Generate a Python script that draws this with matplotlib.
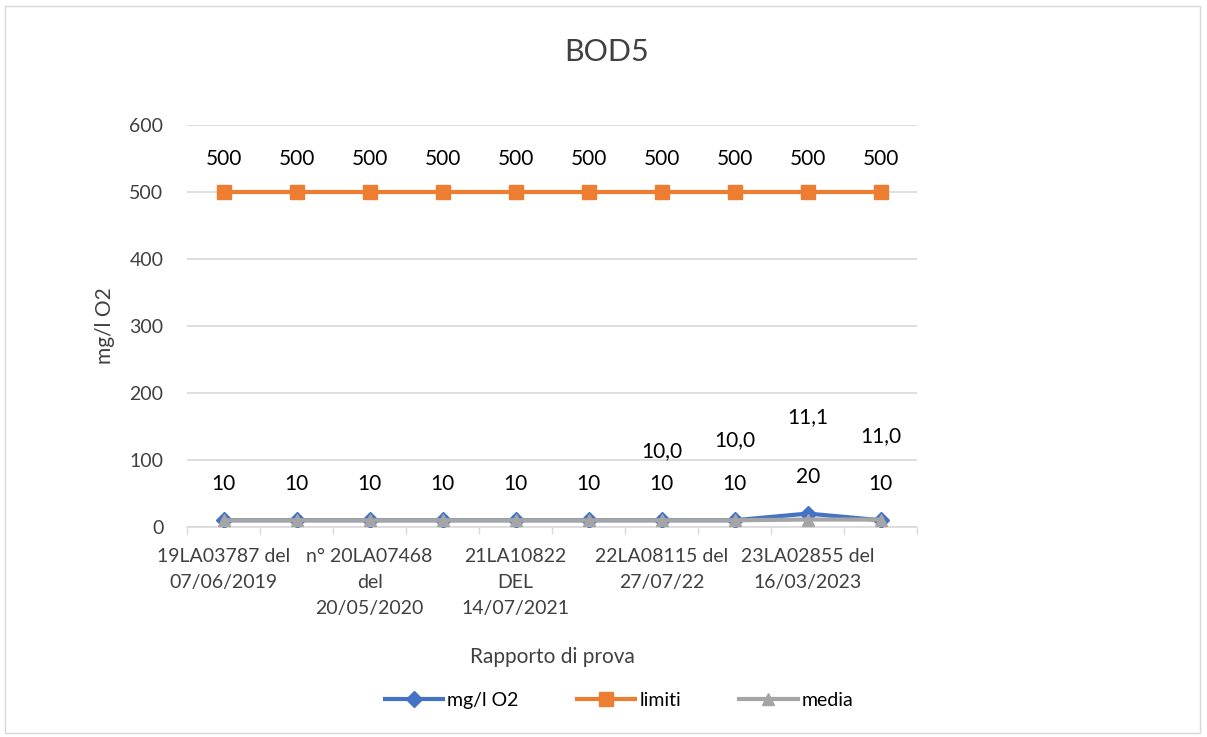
import matplotlib
matplotlib.use('Agg')
import matplotlib.pyplot as plt
from matplotlib.patches import Rectangle

plt.rcParams['font.family'] = ['Lato', 'DejaVu Sans']

# dati
categorie = ['19LA03787 del\n07/06/2019', '',
             'n° 20LA07468\ndel\n20/05/2020', '',
             '21LA10822\nDEL\n14/07/2021', '',
             '22LA08115 del\n27/07/22', '',
             '23LA02855 del\n16/03/2023', '']
bod5 = [10, 10, 10, 10, 10, 10, 10, 10, 20, 10]
limiti = [500, 500, 500, 500, 500, 500, 500, 500, 500, 500]
media = [10, 10, 10, 10, 10, 10, 10.0, 10.0, 11.1, 11.0]
media_etichette = ['', '', '', '', '', '', '10,0', '10,0', '11,1', '11,0']
yticks = [0, 100, 200, 300, 400, 500, 600]

fig = plt.figure(figsize=(12.07, 7.37), dpi=100)
ax = fig.add_axes([0.155, 0.285, 0.605, 0.545])

x = list(range(len(categorie)))
ax.plot(x, bod5, color='#4472C4', lw=3, marker='D', ms=8, label='mg/l O2', zorder=3)
ax.plot(x, limiti, color='#ED7D31', lw=3, marker='s', ms=10, label='limiti', zorder=3)
ax.plot(x, media, color='#A5A5A5', lw=3, marker='^', ms=9, label='media', zorder=4)

# etichette dei dati
for i in x:
    ax.annotate(str(bod5[i]), (i, bod5[i]), xytext=(0, 26), textcoords='offset points',
                ha='center', va='center', fontsize=15)
    ax.annotate(str(limiti[i]), (i, limiti[i]), xytext=(0, 24), textcoords='offset points',
                ha='center', va='center', fontsize=15)
off_media = [0, 0, 0, 0, 0, 0, 50, 58, 74, 60]
for i in x:
    if media_etichette[i]:
        ax.annotate(media_etichette[i], (i, media[i]), xytext=(0, off_media[i]),
                    textcoords='offset points', ha='center', va='center', fontsize=15)

ax.set_xlim(-0.5, len(categorie) - 0.5)
ax.set_ylim(0, 600)
ax.set_yticks(yticks)
ax.tick_params(axis='y', length=0, labelsize=14, labelcolor='#404040', pad=17)
ax.set_xticks(x)
ax.set_xticklabels(categorie, fontsize=14, color='#404040', linespacing=1.65)
ax.tick_params(axis='x', length=0, pad=15)
ax.set_xticks([i + 0.5 for i in range(-1, len(categorie))], minor=True)
ax.tick_params(axis='x', which='minor', length=5, color='#D9D9D9', width=1)
ax.grid(axis='y', color='#D9D9D9', lw=1.2)
ax.set_axisbelow(True)
for s in ['top', 'right', 'left']:
    ax.spines[s].set_visible(False)
ax.spines['bottom'].set_color('#D9D9D9')
ax.spines['bottom'].set_linewidth(1.2)

ax.set_ylabel('mg/l O2', fontsize=15, color='#404040', labelpad=10)
fig.text(0.503, 0.93, 'BOD5', ha='center', va='center', fontsize=22, color='#404040')
fig.text(0.458, 0.108, 'Rapporto di prova', ha='center', va='center', fontsize=15, color='#404040')

fig.legend(loc='center', bbox_to_anchor=(0.513, 0.05), ncol=3, frameon=False, fontsize=14,
           handlelength=3.0, columnspacing=3, handletextpad=0.2)

fig.patches.append(Rectangle((0.004, 0.006), 0.99, 0.986, transform=fig.transFigure,
                             fill=False, edgecolor='#D9D9D9', lw=1))

fig.savefig('out.png', dpi=100)
